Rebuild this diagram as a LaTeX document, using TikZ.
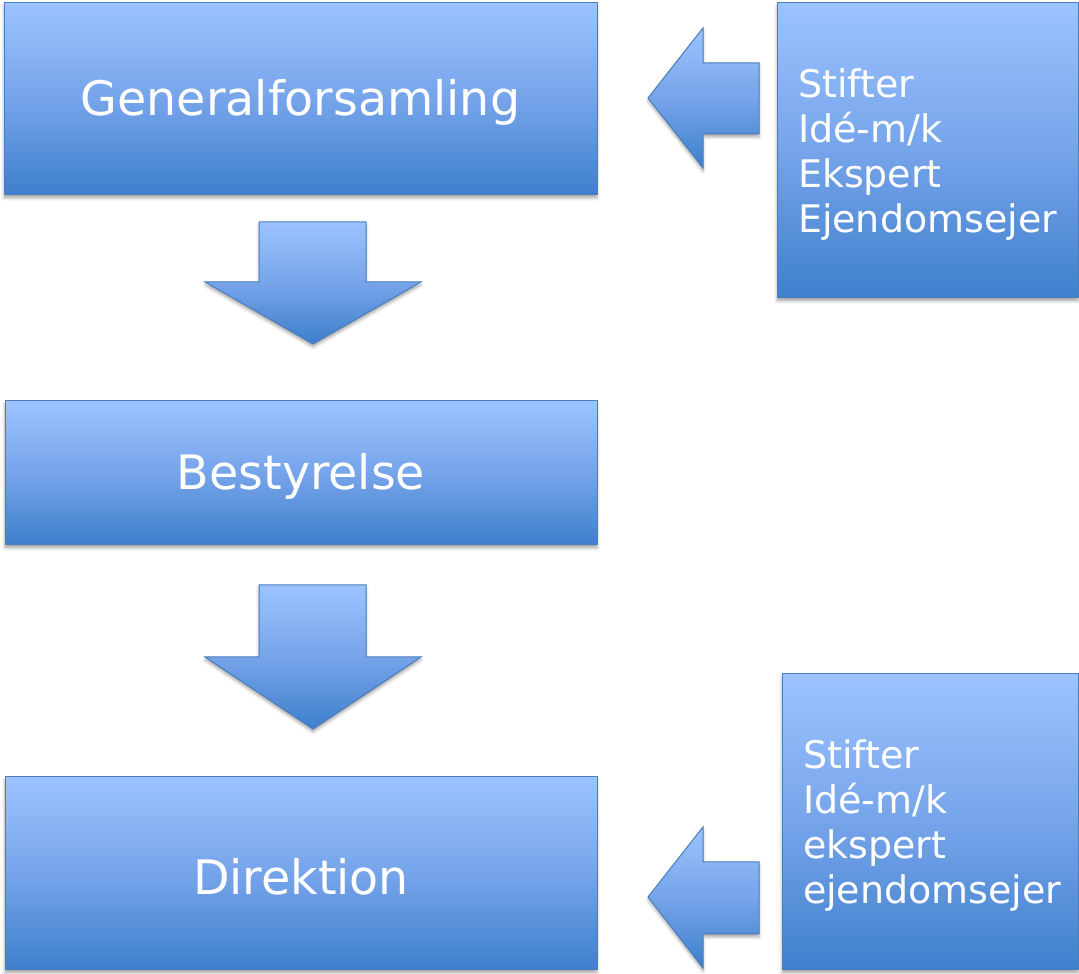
\documentclass[tikz,border=0pt]{standalone}
\usepackage{fontspec}
\setmainfont{DejaVu Sans}
\usetikzlibrary{shadows.blur}
\definecolor{gtop}{RGB}{156,195,255}
\definecolor{gmid}{RGB}{118,164,234}
\definecolor{gbot}{RGB}{62,127,204}
\definecolor{gline}{RGB}{74,126,187}
\tikzset{
  gfill/.style={draw=gline, line width=1pt, top color=gtop, bottom color=gbot, middle color=gmid,
    blur shadow={shadow xshift=0pt, shadow yshift=-3pt, shadow blur radius=3pt, shadow opacity=35}},
  mainbox/.style={gfill, rectangle, inner sep=0pt, text=white, font=\fontsize{47.5}{57}\selectfont},
  sidebox/.style={gfill, rectangle, inner xsep=21pt, inner ysep=0pt, text=white, align=left,
    font=\fontsize{38}{45}\selectfont},
  blockarrow/.style={gfill, line join=miter}
}
\newcommand{\sidetext}[2]{\raisebox{-#1pt}[\height][\depth]{\begin{tabular}{@{}l@{}}#2\end{tabular}}}
\newcommand{\maintext}[1]{\raisebox{-3pt}[\height][\depth]{#1}}
\begin{document}
\begin{tikzpicture}[x=1pt,y=1pt]
\useasboundingbox (0,0) rectangle (1079,974);
\node[mainbox, minimum width=593, minimum height=192] (gf) at (300.5,875) {\maintext{Generalforsamling}};
\node[mainbox, minimum width=592, minimum height=144] (by) at (301,501) {\maintext{Bestyrelse}};
\node[mainbox, minimum width=592, minimum height=193] (di) at (301,100.5) {\maintext{Direktion}};
\node[sidebox, minimum width=301, minimum height=295, text width=259] (s1) at (927.5,823.5)
  {\sidetext{6}{Stifter\\Idé-m/k\\Ekspert\\Ejendomsejer}};
\node[sidebox, minimum width=296, minimum height=296, text width=254] (s2) at (930,152)
  {\sidetext{5}{Stifter\\Idé-m/k\\ekspert\\ejendomsejer}};
% block arrows
\path[blockarrow] (259,752) -- (366,752) -- (366,692) -- (421,692) -- (313,630) -- (205,692) -- (259,692) -- cycle;
\path[blockarrow] (259,389) -- (366,389) -- (366,317) -- (421,317) -- (313,245) -- (205,317) -- (259,317) -- cycle;
\path[blockarrow] (759,911) -- (759,840) -- (703,840) -- (703,806) -- (648,876) -- (703,946) -- (703,911) -- cycle;
\path[blockarrow] (759,112) -- (759,40) -- (703,40) -- (703,6) -- (648,77) -- (703,147) -- (703,112) -- cycle;
\end{tikzpicture}
\end{document}
